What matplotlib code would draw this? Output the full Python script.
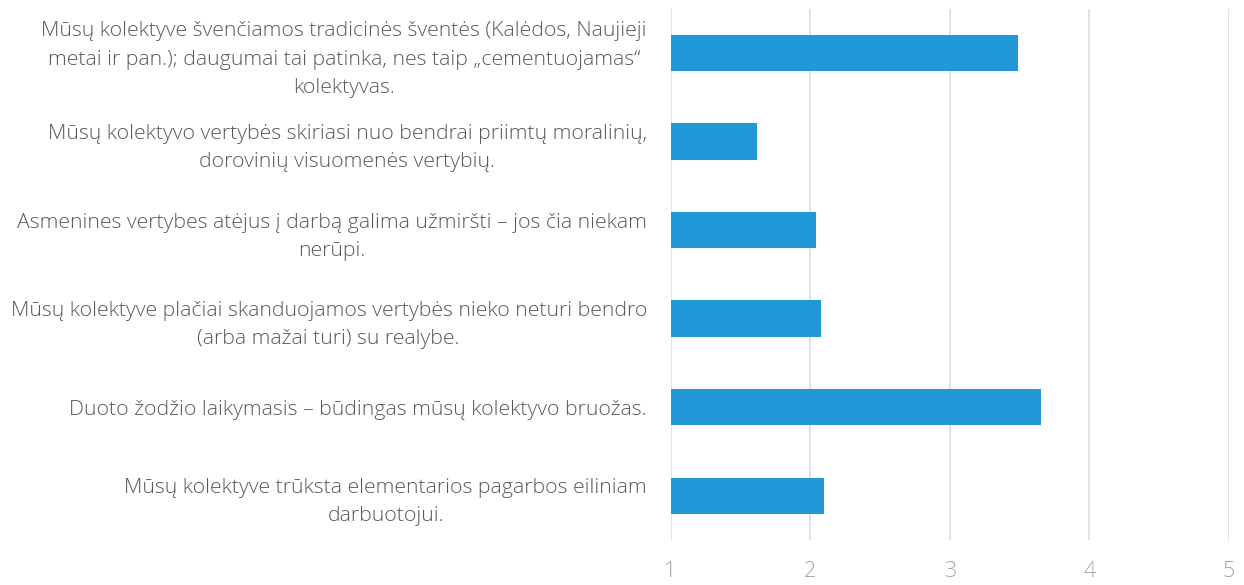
import matplotlib

matplotlib.use("Agg")
import matplotlib.pyplot as plt

plt.rcParams["font.family"] = ["Open Sans", "DejaVu Sans"]

C_BAR = "#2199d8"
C_TEXT = "#595959"
C_TICK = "#a6a6a6"
C_GRID = "#dedede"

# top to bottom, as in the picture
categories = [
    "Mūsų kolektyve švenčiamos tradicinės šventės (Kalėdos, Naujieji\n"
    "metai ir pan.); daugumai tai patinka, nes taip „cementuojamas“\n"
    "kolektyvas.",
    "Mūsų kolektyvo vertybės skiriasi nuo bendrai priimtų moralinių,\n"
    "dorovinių visuomenės vertybių.",
    "Asmenines vertybes atėjus į darbą galima užmiršti – jos čia niekam\n"
    "nerūpi.",
    "Mūsų kolektyve plačiai skanduojamos vertybės nieko neturi bendro\n"
    "(arba mažai turi) su realybe.",
    "Duoto žodžio laikymasis – būdingas mūsų kolektyvo bruožas.",
    "Mūsų kolektyve trūksta elementarios pagarbos eiliniam\n"
    "darbuotojui.",
]
values = [3.49, 1.62, 2.04, 2.08, 3.65, 2.10]
x_ticks = [1, 2, 3, 4, 5]

fig, ax = plt.subplots(figsize=(12.44, 5.85), dpi=100)
fig.subplots_adjust(left=0.539, right=0.988, top=0.985, bottom=0.077)

ypos = list(range(len(categories)))
ax.barh(ypos, values, height=0.41, color=C_BAR, zorder=3)
ax.set_xlim(1, 5)
ax.set_ylim(len(categories) - 0.5, -0.5)

ax.set_xticks(x_ticks)
ax.set_xticklabels([str(t) for t in x_ticks])
ax.set_yticks(ypos)
ax.set_yticklabels(categories, ha="right", multialignment="center",
                   fontsize=15.3, color=C_TEXT, fontweight="light",
                   linespacing=1.55)

ax.tick_params(axis="y", length=0, pad=17)
ax.tick_params(axis="x", length=0, pad=15, labelsize=15.5, labelcolor=C_TICK)
for lab in ax.get_xticklabels():
    lab.set_fontweight("light")

ax.grid(axis="x", color=C_GRID, linewidth=1.2, zorder=0)
for side in ["top", "right", "bottom", "left"]:
    ax.spines[side].set_visible(False)

fig.savefig("out.png", dpi=100)
